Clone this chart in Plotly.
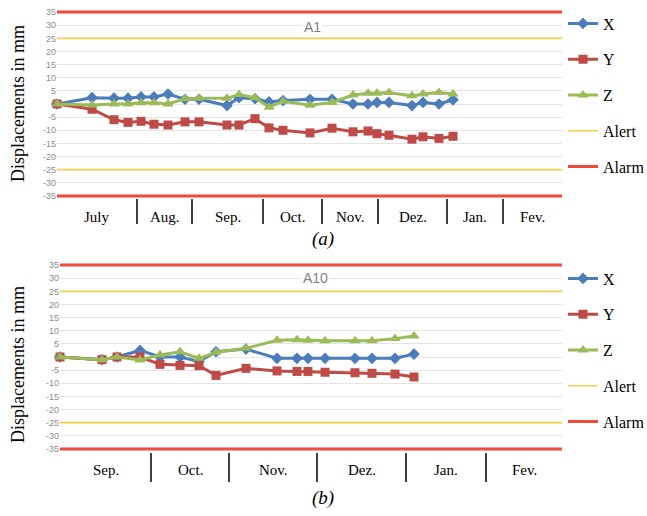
import plotly.graph_objects as go

# ---------------- data ----------------
months_a = ["July", "Aug.", "Sep.", "Oct.", "Nov.", "Dez.", "Jan.", "Fev."]
bounds_a = [0, 80, 135, 206, 265, 321, 390, 446, 505]
t_a = [0, 35, 57, 71, 84, 97, 111, 128, 142, 170, 182, 198, 212, 226, 253, 275, 296, 311, 320, 332, 355, 366, 382, 396]
X_a = [0, 2.4, 2.2, 2.2, 2.7, 2.7, 3.8, 1.8, 1.8, -0.6, 2.4, 2, 0.8, 1.3, 1.8, 1.8, 0, 0, 0.6, 0.6, -0.6, 0.6, 0, 1.6]
Y_a = [0, -2, -6, -7, -6.6, -7.7, -8, -6.8, -6.8, -8, -8, -5.6, -9.1, -10, -11, -9.2, -10.6, -10.3, -11.3, -11.9, -13.4, -12.5, -13.1, -12.3]
Z_a = [0, -0.4, 0, 0, 0.5, 0.5, 0, 2, 2.2, 2.2, 3.6, 2.4, -1.2, 1, -0.5, 0.6, 3.4, 4.1, 4.1, 4.4, 3.1, 3.8, 4.4, 3.8]

months_b = ["Sep.", "Oct.", "Nov.", "Dez.", "Jan.", "Fev."]
bounds_b = [0, 91, 169, 257, 346, 426, 502]
t_b = [0, 42, 57, 80, 100, 120, 139, 156, 186, 217, 237, 248, 265, 295, 312, 335, 354]
X_b = [0, -1, 0, 2.5, 0, 0, -1.7, 2, 3, -0.5, -0.5, -0.5, -0.5, -0.5, -0.5, -0.5, 1.1]
Y_b = [0, -1, 0, 0, -2.8, -3.2, -3.3, -7, -4.3, -5.3, -5.5, -5.5, -5.8, -6, -6.2, -6.5, -7.6]
Z_b = [0, -1, 0, -1.1, 0.8, 2, -0.5, 1.8, 3.3, 6.4, 6.6, 6.4, 6.2, 6.2, 6.2, 7, 8]

alert_level = 25
alarm_level = 35
y_ticks = list(range(-35, 40, 5))

# ---------------- style ----------------
C_X = "#4A7DBA"
C_Y = "#BE4B48"
C_Z = "#9BBB59"
C_ALERT = "#F2D04C"
C_ALARM = "#EE4B3B"
SERIF = "Liberation Serif"
W, H = 647, 516

fig = go.Figure()


def add_panel(xa, ya, leg, t, X, Y, Z, bounds):
    xr = [bounds[0], bounds[-1]]
    common = dict(xaxis=xa, yaxis=ya, legend=leg, mode="lines+markers", cliponaxis=False)
    fig.add_trace(go.Scatter(x=t, y=X, name="X", legendgroup=leg + "X",
                             line=dict(color=C_X, width=3),
                             marker=dict(symbol="diamond", size=9, color=C_X), **common))
    fig.add_trace(go.Scatter(x=t, y=Y, name="Y", legendgroup=leg + "Y",
                             line=dict(color=C_Y, width=3),
                             marker=dict(symbol="square", size=9, color=C_Y), **common))
    fig.add_trace(go.Scatter(x=t, y=Z, name="Z", legendgroup=leg + "Z",
                             line=dict(color=C_Z, width=3),
                             marker=dict(symbol="triangle-up", size=10, color=C_Z), **common))
    fig.add_trace(go.Scatter(x=[xr[0], xr[1], None, xr[0], xr[1]],
                             y=[alert_level, alert_level, None, -alert_level, -alert_level],
                             name="Alert", legendgroup=leg + "Alert", mode="lines",
                             line=dict(color=C_ALERT, width=1.6), xaxis=xa, yaxis=ya, legend=leg))
    fig.add_trace(go.Scatter(x=[xr[0], xr[1], None, xr[0], xr[1]],
                             y=[alarm_level, alarm_level, None, -alarm_level, -alarm_level],
                             name="Alarm", legendgroup=leg + "Alarm", mode="lines",
                             line=dict(color=C_ALARM, width=3), xaxis=xa, yaxis=ya, legend=leg))


add_panel("x", "y", "legend", t_a, X_a, Y_a, Z_a, bounds_a)
add_panel("x2", "y2", "legend2", t_b, X_b, Y_b, Z_b, bounds_b)

yax = dict(range=[-35.8, 35.8], tickvals=y_ticks, ticktext=[str(v) for v in y_ticks],
           tickfont=dict(family="Liberation Sans", size=9, color="#8C8C8C"),
           showgrid=True, gridcolor="#E4E4E4", gridwidth=1, zeroline=False,
           showline=False, ticks="", fixedrange=True, automargin=False)
xax = dict(showgrid=False, zeroline=False, showticklabels=False, ticks="", showline=False,
           automargin=False)


def px(x):
    return x / W


def py(y):
    return 1 - y / H


fig.update_layout(
    width=W, height=H, margin=dict(l=0, r=0, t=0, b=0, autoexpand=False),
    paper_bgcolor="white", plot_bgcolor="white",
    xaxis=dict(domain=[px(57), px(562)], range=[bounds_a[0], bounds_a[-1]], anchor="y", **xax),
    yaxis=dict(domain=[py(198), py(10)], anchor="x", **yax),
    xaxis2=dict(domain=[px(60), px(562)], range=[bounds_b[0], bounds_b[-1]], anchor="y2", **xax),
    yaxis2=dict(domain=[py(451), py(263)], anchor="x2", **yax),
    legend=dict(x=px(563), y=py(95), xanchor="left", yanchor="middle", tracegroupgap=12,
                font=dict(family=SERIF, size=16, color="black"), bgcolor="rgba(0,0,0,0)"),
    legend2=dict(x=px(563), y=py(350), xanchor="left", yanchor="middle", tracegroupgap=12,
                 font=dict(family=SERIF, size=16, color="black"), bgcolor="rgba(0,0,0,0)"),
    showlegend=True,
)


def note(x, y, text, **kw):
    fig.add_annotation(x=x, y=y, text=text, showarrow=False, xanchor="center", yanchor="middle", **kw)


def month_axis(xref, months, bounds, y_lab, y0, y1):
    for i, m in enumerate(months):
        note((bounds[i] + bounds[i + 1]) / 2, py(y_lab), m, xref=xref, yref="paper",
             font=dict(family=SERIF, size=15, color="black"))
    for b in bounds[1:-1]:
        fig.add_shape(type="line", xref=xref, yref="paper", x0=b, x1=b, y0=py(y0), y1=py(y1),
                      line=dict(color="black", width=1.5))


month_axis("x", months_a, bounds_a, 217, 199, 224)
month_axis("x2", months_b, bounds_b, 470, 453, 482)

# panel titles
note(px(312), py(27), "A1", xref="paper", yref="paper", bgcolor="white",
     font=dict(family="Liberation Sans", size=14, color="#7F7F7F"))
note(px(315), py(278), "A10", xref="paper", yref="paper", bgcolor="white",
     font=dict(family="Liberation Sans", size=14, color="#7F7F7F"))

# y titles
for yc in (104, 365):
    note(px(18), py(yc), "Displacements in mm", xref="paper", yref="paper", textangle=-90,
         font=dict(family=SERIF, size=18, color="black"))

# captions
note(px(323), py(239), "<i>(a)</i>", xref="paper", yref="paper",
     font=dict(family=SERIF, size=19, color="black"))
note(px(323), py(498), "<i>(b)</i>", xref="paper", yref="paper",
     font=dict(family=SERIF, size=19, color="black"))

fig.write_html("out.html", config={"displayModeBar": False},
               post_script="document.body.style.margin='0px';")
